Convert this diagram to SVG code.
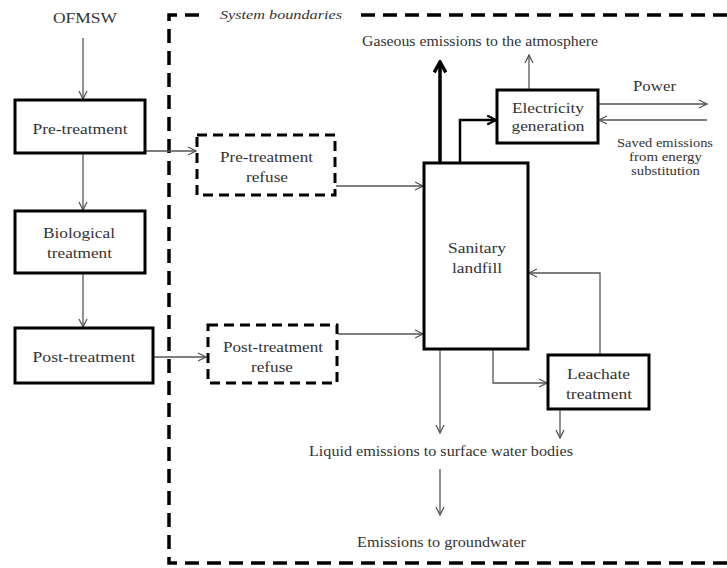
<svg xmlns="http://www.w3.org/2000/svg" width="727" height="568" viewBox="0 0 727 568" font-family="Liberation Serif, Times New Roman, serif">
<defs>
<style>
text{font-size:15px;fill:#333;text-anchor:middle}
.sm{font-size:12px}
.box{fill:#fff;stroke:#000;stroke-width:3}
.dbox{fill:#fff;stroke:#000;stroke-width:3;stroke-dasharray:10 6}
.ln{fill:none;stroke:#555;stroke-width:1.3}
.bd{fill:none;stroke:#000;stroke-width:3.5;stroke-dasharray:14 8}
</style>
<marker id="ah" viewBox="0 0 10 10" refX="9" refY="5" markerWidth="10" markerHeight="10" markerUnits="userSpaceOnUse" orient="auto"><path d="M1,1 L9,5 L1,9" fill="none" stroke="#555" stroke-width="1.3"/></marker>
<marker id="ahb" viewBox="0 0 12 12" refX="10" refY="6" markerWidth="14" markerHeight="14" markerUnits="userSpaceOnUse" orient="auto"><path d="M1,1 L10,6 L1,11" fill="none" stroke="#000" stroke-width="3"/></marker>
<marker id="ahk" viewBox="0 0 10 10" refX="9" refY="5" markerWidth="11" markerHeight="11" markerUnits="userSpaceOnUse" orient="auto"><path d="M1,1 L9,5 L1,9" fill="none" stroke="#000" stroke-width="2"/></marker>
</defs>
<rect width="727" height="568" fill="#fff"/>
<g id="boundary">
<path class="bd" d="M727,15 L169,15 L169,563 L727,563"/>
<rect x="207" y="6" width="146" height="18" fill="#fff"/>
<text x="281" y="19" font-style="italic" style="font-size:13px" textLength="122" lengthAdjust="spacingAndGlyphs">System boundaries</text>
</g>
<g id="connectors">
<line class="ln" x1="83" y1="38" x2="83" y2="99" marker-end="url(#ah)"/>
<line class="ln" x1="83" y1="154" x2="83" y2="210" marker-end="url(#ah)"/>
<line class="ln" x1="83" y1="273" x2="83" y2="327" marker-end="url(#ah)"/>
<line class="ln" x1="146" y1="151" x2="196" y2="151" marker-end="url(#ah)"/>
<line class="ln" x1="154" y1="357" x2="206" y2="357" marker-end="url(#ah)"/>
<line class="ln" x1="336" y1="186" x2="423" y2="186" marker-end="url(#ah)"/>
<line class="ln" x1="338" y1="334" x2="423" y2="334" marker-end="url(#ah)"/>
<line x1="440" y1="162" x2="440" y2="62" stroke="#000" stroke-width="3.5" marker-end="url(#ahb)"/>
<path d="M460,162 L460,120 L496,120" fill="none" stroke="#000" stroke-width="2.5" marker-end="url(#ahk)"/>
<line class="ln" x1="529" y1="89" x2="529" y2="55" marker-end="url(#ah)"/>
<line class="ln" x1="599" y1="104" x2="707" y2="104" marker-end="url(#ah)"/>
<line class="ln" x1="707" y1="120" x2="599" y2="120" marker-end="url(#ah)"/>
<path class="ln" d="M493,350 L493,383 L547,383" marker-end="url(#ah)"/>
<path class="ln" d="M600,354 L600,273 L529,273" marker-end="url(#ah)"/>
<line class="ln" x1="440" y1="350" x2="440" y2="433" marker-end="url(#ah)"/>
<line class="ln" x1="560" y1="410" x2="560" y2="438" marker-end="url(#ah)"/>
<line class="ln" x1="440" y1="469" x2="440" y2="515" marker-end="url(#ah)"/>
</g>
<g id="ofmsw"><text x="85" y="23" textLength="64" lengthAdjust="spacingAndGlyphs">OFMSW</text></g>
<g id="pretreatment"><rect class="box" x="15" y="100" width="130" height="53"/><text x="80" y="134" textLength="95" lengthAdjust="spacingAndGlyphs">Pre-treatment</text></g>
<g id="biological"><rect class="box" x="15" y="211" width="130" height="62"/><text x="79" y="238" textLength="72" lengthAdjust="spacingAndGlyphs">Biological</text><text x="79.5" y="258" textLength="65" lengthAdjust="spacingAndGlyphs">treatment</text></g>
<g id="posttreatment"><rect class="box" x="15" y="328" width="138" height="55"/><text x="84" y="362" textLength="103" lengthAdjust="spacingAndGlyphs">Post-treatment</text></g>
<g id="pre-refuse"><rect class="dbox" x="197" y="135" width="138" height="60"/><text x="266.5" y="162" textLength="93" lengthAdjust="spacingAndGlyphs">Pre-treatment</text><text x="267" y="182" textLength="42" lengthAdjust="spacingAndGlyphs">refuse</text></g>
<g id="post-refuse"><rect class="dbox" x="208" y="325" width="129" height="58"/><text x="273" y="352" textLength="100" lengthAdjust="spacingAndGlyphs">Post-treatment</text><text x="272" y="372" textLength="42" lengthAdjust="spacingAndGlyphs">refuse</text></g>
<g id="landfill"><rect class="box" x="424" y="163" width="104" height="186"/><text x="477" y="253" textLength="58" lengthAdjust="spacingAndGlyphs">Sanitary</text><text x="477" y="273" textLength="50" lengthAdjust="spacingAndGlyphs">landfill</text></g>
<g id="electricity"><rect class="box" x="497" y="90" width="101" height="53"/><text x="548" y="113" textLength="72" lengthAdjust="spacingAndGlyphs">Electricity</text><text x="548" y="131" textLength="73" lengthAdjust="spacingAndGlyphs">generation</text></g>
<g id="leachate"><rect class="box" x="548" y="355" width="101" height="54"/><text x="598.5" y="379" textLength="63" lengthAdjust="spacingAndGlyphs">Leachate</text><text x="599" y="399" textLength="66" lengthAdjust="spacingAndGlyphs">treatment</text></g>
<g id="labels">
<text x="480" y="46" textLength="236" lengthAdjust="spacingAndGlyphs">Gaseous emissions to the atmosphere</text>
<text x="654.5" y="91" textLength="43" lengthAdjust="spacingAndGlyphs">Power</text>
<text class="sm" x="665" y="147" textLength="96" lengthAdjust="spacingAndGlyphs">Saved emissions</text>
<text class="sm" x="665.5" y="161" textLength="73" lengthAdjust="spacingAndGlyphs">from energy</text>
<text class="sm" x="665.5" y="175" textLength="69" lengthAdjust="spacingAndGlyphs">substitution</text>
<text x="441" y="456" textLength="264" lengthAdjust="spacingAndGlyphs">Liquid emissions to surface water bodies</text>
<text x="441.5" y="547" textLength="169" lengthAdjust="spacingAndGlyphs">Emissions to groundwater</text>
</g>
</svg>
